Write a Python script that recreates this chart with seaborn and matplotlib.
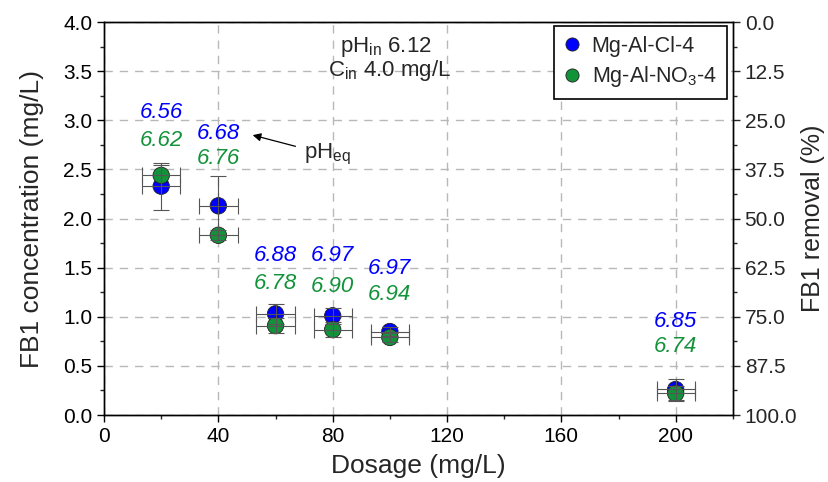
import matplotlib
matplotlib.use("Agg")
import matplotlib.pyplot as plt
import seaborn as sns
import pandas as pd
import numpy as np
from matplotlib.ticker import MultipleLocator, FormatStrFormatter

# ---- data ----
dosage = [20, 40, 60, 80, 100, 200]
conc_cl = [2.33, 2.13, 1.03, 1.01, 0.85, 0.26]
err_cl = [0.24, 0.30, 0.10, 0.08, 0.05, 0.11]
conc_no3 = [2.44, 1.83, 0.91, 0.87, 0.79, 0.22]
err_no3 = [0.11, 0.05, 0.08, 0.08, 0.05, 0.08]
xerr = [6.7, 6.7, 6.7, 6.7, 6.7, 6.7]
ph_cl = ["6.56", "6.68", "6.88", "6.97", "6.97", "6.85"]
ph_no3 = ["6.62", "6.76", "6.78", "6.90", "6.94", "6.74"]
ph_cl_y = [3.08, 2.87, 1.62, 1.62, 1.49, 0.95]
ph_no3_y = [2.80, 2.61, 1.34, 1.31, 1.23, 0.70]
series_names = ["Mg-Al-Cl-4", r"Mg-Al-NO$_\mathregular{3}$-4"]
c_in = 4.0

sns.set_style("ticks")
plt.rcParams["font.family"] = ["Liberation Sans", "DejaVu Sans"]
plt.rcParams["mathtext.fontset"] = "custom"
plt.rcParams["mathtext.rm"] = "Liberation Sans"
plt.rcParams["mathtext.it"] = "Liberation Sans:italic"

blue = "#0000FF"
green = "#12933A"

df = pd.DataFrame({
    "Dosage": dosage * 2,
    "Conc": conc_cl + conc_no3,
    "Sample": [series_names[0]] * len(dosage) + [series_names[1]] * len(dosage),
})

fig = plt.figure(figsize=(8.29, 4.82), dpi=100)
ax = fig.add_axes([0.1255, 0.139, 0.7585, 0.815])

sns.scatterplot(data=df, x="Dosage", y="Conc", hue="Sample",
                palette={series_names[0]: blue, series_names[1]: green},
                s=140, edgecolor="#222222", linewidth=0.6, ax=ax, zorder=3)

ax.errorbar(dosage, conc_cl, yerr=err_cl, xerr=xerr, fmt="none",
            ecolor="#555555", elinewidth=0.8, capsize=6, capthick=0.8, zorder=4)
ax.errorbar(dosage, conc_no3, yerr=err_no3, xerr=xerr, fmt="none",
            ecolor="#555555", elinewidth=0.8, capsize=6, capthick=0.8, zorder=4)

for x, t, y in zip(dosage, ph_cl, ph_cl_y):
    ax.text(x, y, t, color=blue, fontsize=16, style="italic", ha="center", va="center")
for x, t, y in zip(dosage, ph_no3, ph_no3_y):
    ax.text(x, y, t, color=green, fontsize=16, style="italic", ha="center", va="center")

ax.annotate(r"pH$_\mathregular{eq}$", xy=(52, 2.85), xytext=(70, 2.65),
            fontsize=16, va="center", ha="left",
            arrowprops=dict(arrowstyle="-|>", color="black", lw=0.9,
                            shrinkA=4, shrinkB=0, mutation_scale=12))

ax.text(98.5, 3.75, r"pH$_\mathregular{in}$ 6.12", fontsize=16, ha="center", va="center")
ax.text(100, 3.51, r"C$_\mathregular{in}$ 4.0 mg/L", fontsize=16, ha="center", va="center")

ax.set_xlim(0, 220)
ax.set_ylim(0, 4.0)
ax.xaxis.set_major_locator(MultipleLocator(40))
ax.xaxis.set_minor_locator(MultipleLocator(20))
ax.yaxis.set_major_locator(MultipleLocator(0.5))
ax.yaxis.set_minor_locator(MultipleLocator(0.25))
ax.yaxis.set_major_formatter(FormatStrFormatter("%.1f"))
ax.grid(True, which="major", color="#b8b8b8", linestyle=(0, (6, 5)), linewidth=1)
ax.set_axisbelow(True)
ax.tick_params(which="major", direction="out", length=5, width=1, labelsize=15, colors="black")
ax.tick_params(which="minor", direction="out", length=3, width=1)
for sp in ax.spines.values():
    sp.set_visible(True)
    sp.set_color("black")
    sp.set_linewidth(1)
ax.set_xlabel("Dosage (mg/L)", fontsize=19, labelpad=6)
ax.set_ylabel("FB1 concentration (mg/L)", fontsize=19, labelpad=14)

leg = ax.legend(loc="upper right", fontsize=15.5, frameon=True, fancybox=False,
                edgecolor="black", framealpha=1, markerscale=0.8,
                handlelength=0.8, handletextpad=0.5, borderpad=0.45,
                labelspacing=0.35, borderaxespad=0.0,
                bbox_to_anchor=(0.99, 0.99))
leg.get_frame().set_linewidth(1.2)

ax2 = ax.twinx()
ax2.set_ylim(100, 0)
ax2.yaxis.set_major_locator(MultipleLocator(12.5))
ax2.yaxis.set_minor_locator(MultipleLocator(6.25))
ax2.yaxis.set_major_formatter(FormatStrFormatter("%.1f"))
ax2.tick_params(which="major", direction="out", length=5, width=1, labelsize=15)
ax2.tick_params(which="minor", direction="out", length=3, width=1)
ax2.set_ylabel("FB1 removal (%)", fontsize=18, labelpad=3)
ax2.grid(False)
for sp in ax2.spines.values():
    sp.set_color("black")
    sp.set_linewidth(1)

fig.savefig("out.png", dpi=100)
